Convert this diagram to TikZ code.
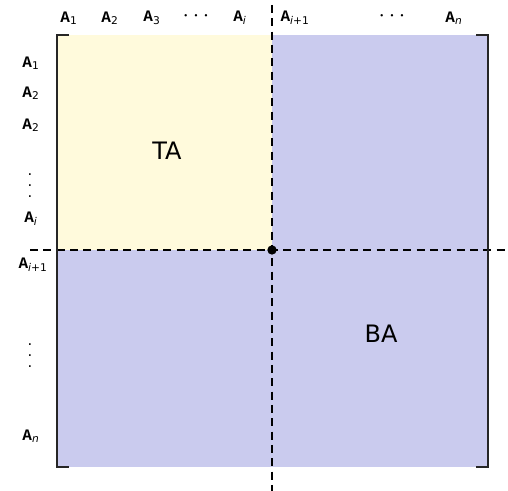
\documentclass[tikz,border=0pt]{standalone}
\usepackage{fontspec}
\setsansfont{DejaVu Sans}
\setmonofont{Liberation Mono}
\definecolor{tacol}{HTML}{FFFADC}
\definecolor{bacol}{HTML}{CACBEE}
\newcommand{\Alab}[1]{\texttt{\bfseries A}\textsubscript{\sffamily #1}}
\begin{document}
\begin{tikzpicture}[x=0.75pt,y=-0.75pt,
  lab/.style={font=\fontsize{12}{13}\selectfont, inner sep=0pt},
  dts/.style={font=\fontsize{16}{17}\selectfont, inner sep=0pt},
  vdts/.style={font=\sffamily\fontsize{11}{8.6}\selectfont, inner sep=0pt, align=center},
  big/.style={font=\sffamily\fontsize{18}{22}\selectfont, inner sep=0pt},
  dash line/.style={dash pattern=on 6pt off 4pt, line width=0.8pt},
  brk/.style={line width=1pt, black!85}]
\useasboundingbox (0,0) rectangle (508,491);
\fill[bacol] (57,35) rectangle (488,467);
\fill[tacol] (57,35) rectangle (272,250);
\draw[dash line] (272,5) -- (272,491);
\draw[dash line] (30,250) -- (505,250);
\node[circle, fill=black, inner sep=0pt, minimum size=7pt] (c) at (272,250) {};
% brackets
\draw[brk] (69,35) -- (57,35) -- (57,467) -- (69,467);
\draw[brk] (476,35) -- (488,35) -- (488,467) -- (476,467);
% top labels
\node[lab] (t1) at (69,18) {\Alab{1}};
\node[lab] (t2) at (110,18) {\Alab{2}};
\node[lab] (t3) at (152,18) {\Alab{3}};
\node[dts] (td) at (196,16) {$\cdots$};
\node[lab] (ti) at (240,18) {\Alab{\textit{i}}};
\node[lab] (tj) at (295,18) {\Alab{\textit{i}+1}};
\node[dts] (te) at (392,16) {$\cdots$};
\node[lab] (tn) at (454,18) {\Alab{\textit{n}}};
% left labels
\node[lab] (l1) at (31,63) {\Alab{1}};
\node[lab] (l2) at (31,93) {\Alab{2}};
\node[lab] (l3) at (31,125) {\Alab{2}};
\node[vdts, anchor=base] (ld) at (30,198) {.\\.\\.};
\node[lab] (li) at (31,219) {\Alab{\textit{i}}};
\node[lab] (lj) at (33,265) {\Alab{\textit{i}+1}};
\node[vdts, anchor=base] (le) at (30,368) {.\\.\\.};
\node[lab] (ln) at (31,436) {\Alab{\textit{n}}};
% region labels
\node[big] (ta) at (167,151) {TA};
\node[big] (ba) at (381,334) {BA};
\end{tikzpicture}
\end{document}
